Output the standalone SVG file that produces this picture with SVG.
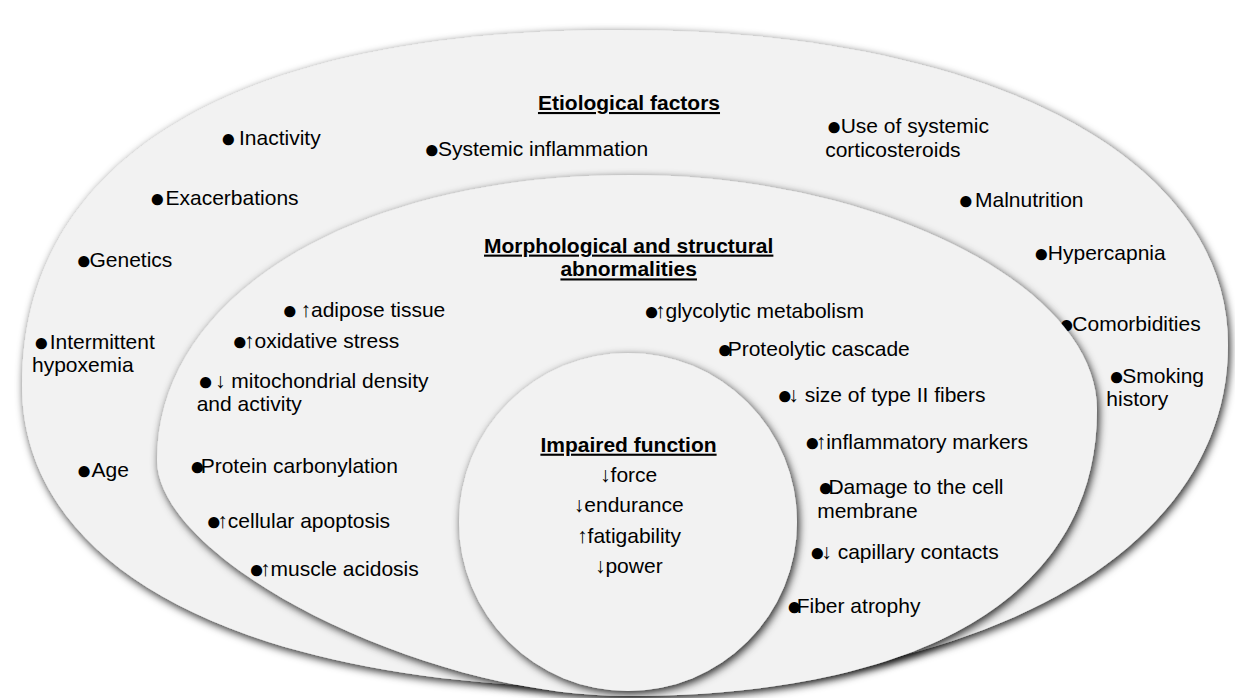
<svg xmlns="http://www.w3.org/2000/svg" width="1235" height="698" viewBox="0 0 1235 698">
<defs>
<style>
.t{font-family:"Liberation Sans",Arial,sans-serif;font-size:21px;fill:#000}
.h{font-weight:bold;text-decoration:underline}
.c{text-anchor:middle}
.b{font-size:26px;letter-spacing:-6px;baseline-shift:-1.5px}
.shape{fill:#f2f2f2;filter:url(#sh)}
</style>
<filter id="sh" x="-10%" y="-10%" width="120%" height="125%">
<feDropShadow dx="2" dy="3" stdDeviation="4" flood-color="#000" flood-opacity="0.85"/>
</filter>
</defs>
<rect width="1235" height="698" fill="#fff"/>
<g id="etiological-factors">
<path class="shape" d="M22,385 C22,157.8 237.3,30 620,30 C984.8,30 1228,156 1228,345 C1228,550.8 984.8,688 620,688 C249.2,688 22,572.9 22,385 Z"/>
<text class="t h c" x="629" y="110">Etiological factors</text>
<text class="t" y="145"><tspan class="b" x="220.5">●</tspan> <tspan x="239">Inactivity</tspan></text>
<text class="t" y="156"><tspan class="b" x="424">●</tspan> <tspan x="438">Systemic inflammation</tspan></text>
<text class="t" y="205"><tspan class="b" x="149.5">●</tspan> <tspan x="165.5">Exacerbations</tspan></text>
<text class="t" y="267"><tspan class="b" x="76">●</tspan><tspan x="89.5">Genetics</tspan></text>
<text class="t"><tspan class="b" x="33.5" y="348.5">●</tspan> <tspan x="49.7" y="348.5">Intermittent</tspan> <tspan x="32" y="372.3">hypoxemia</tspan></text>
<text class="t" y="477"><tspan class="b" x="76.2">●</tspan> <tspan x="91.5">Age</tspan></text>
<text class="t"><tspan class="b" x="826.2" y="133.3">●</tspan> <tspan x="840.7" y="133.3">Use of systemic</tspan> <tspan x="825.2" y="157.1">corticosteroids</tspan></text>
<text class="t" y="206.7"><tspan class="b" x="958">●</tspan> <tspan x="975">Malnutrition</tspan></text>
<text class="t" y="259.5"><tspan class="b" x="1033.5">●</tspan> <tspan x="1047.8">Hypercapnia</tspan></text>
<text class="t" y="330.7"><tspan class="b" x="1058.8">●</tspan><tspan x="1072.3">Comorbidities</tspan></text>
<text class="t"><tspan class="b" x="1108.8" y="382.5">●</tspan> <tspan x="1122.3" y="382.5">Smoking</tspan> <tspan x="1106.3" y="406.3">history</tspan></text>
</g>
<g id="morphological-abnormalities">
<path class="shape" d="M157,460 C157,294.7 355.7,175 630,175 C877.5,175 1097,285.5 1097,410 C1097,593 927.1,696 625,696 C423.8,696 157,561.5 157,460 Z"/>
<text class="t h c" x="628.7" y="252.6">Morphological and structural</text>
<text class="t h c" x="628.7" y="276.4">abnormalities</text>
<text class="t" y="317.3"><tspan class="b" x="282">●</tspan> <tspan x="300.5">↑adipose tissue</tspan></text>
<text class="t" y="348.3"><tspan class="b" x="232">●</tspan><tspan x="244">↑oxidative stress</tspan></text>
<text class="t"><tspan class="b" x="197.7" y="387.5">●</tspan> <tspan x="215" y="387.5">↓ mitochondrial density</tspan> <tspan x="196.7" y="411.3">and activity</tspan></text>
<text class="t" y="472.7"><tspan class="b" x="189.5">●</tspan><tspan x="200.7">Protein carbonylation</tspan></text>
<text class="t" y="528.3"><tspan class="b" x="206">●</tspan><tspan x="217.3">↑cellular apoptosis</tspan></text>
<text class="t" y="576"><tspan class="b" x="248.7">●</tspan><tspan x="260">↑muscle acidosis</tspan></text>
<text class="t" y="318.3"><tspan class="b" x="643.7">●</tspan><tspan x="655">↑glycolytic metabolism</tspan></text>
<text class="t" y="356"><tspan class="b" x="717">●</tspan><tspan x="727.7">Proteolytic cascade</tspan></text>
<text class="t" y="401.7"><tspan class="b" x="777">●</tspan><tspan x="788.3">↓ size of type II fibers</tspan></text>
<text class="t" y="449.3"><tspan class="b" x="804.5">●</tspan><tspan x="815.7">↑inflammatory markers</tspan></text>
<text class="t"><tspan class="b" x="817.7" y="494">●</tspan><tspan x="828.4" y="494">Damage to the cell</tspan> <tspan x="817.2" y="517.8">membrane</tspan></text>
<text class="t" y="559.3"><tspan class="b" x="809.5">●</tspan><tspan x="821.3">↓ capillary contacts</tspan></text>
<text class="t" y="613.3"><tspan class="b" x="786.5">●</tspan><tspan x="796.7">Fiber atrophy</tspan></text>
</g>
<g id="impaired-function">
<circle class="shape" cx="628" cy="522" r="169"/>
<text class="t h c" x="628.5" y="451.7">Impaired function</text>
<text class="t c" x="628.7" y="482.3">↓force</text>
<text class="t c" x="628.7" y="512.3">↓endurance</text>
<text class="t c" x="629" y="543.3">↑fatigability</text>
<text class="t c" x="628.8" y="572.7">↓power</text>
</g>
<g id="connectors"/>
</svg>
